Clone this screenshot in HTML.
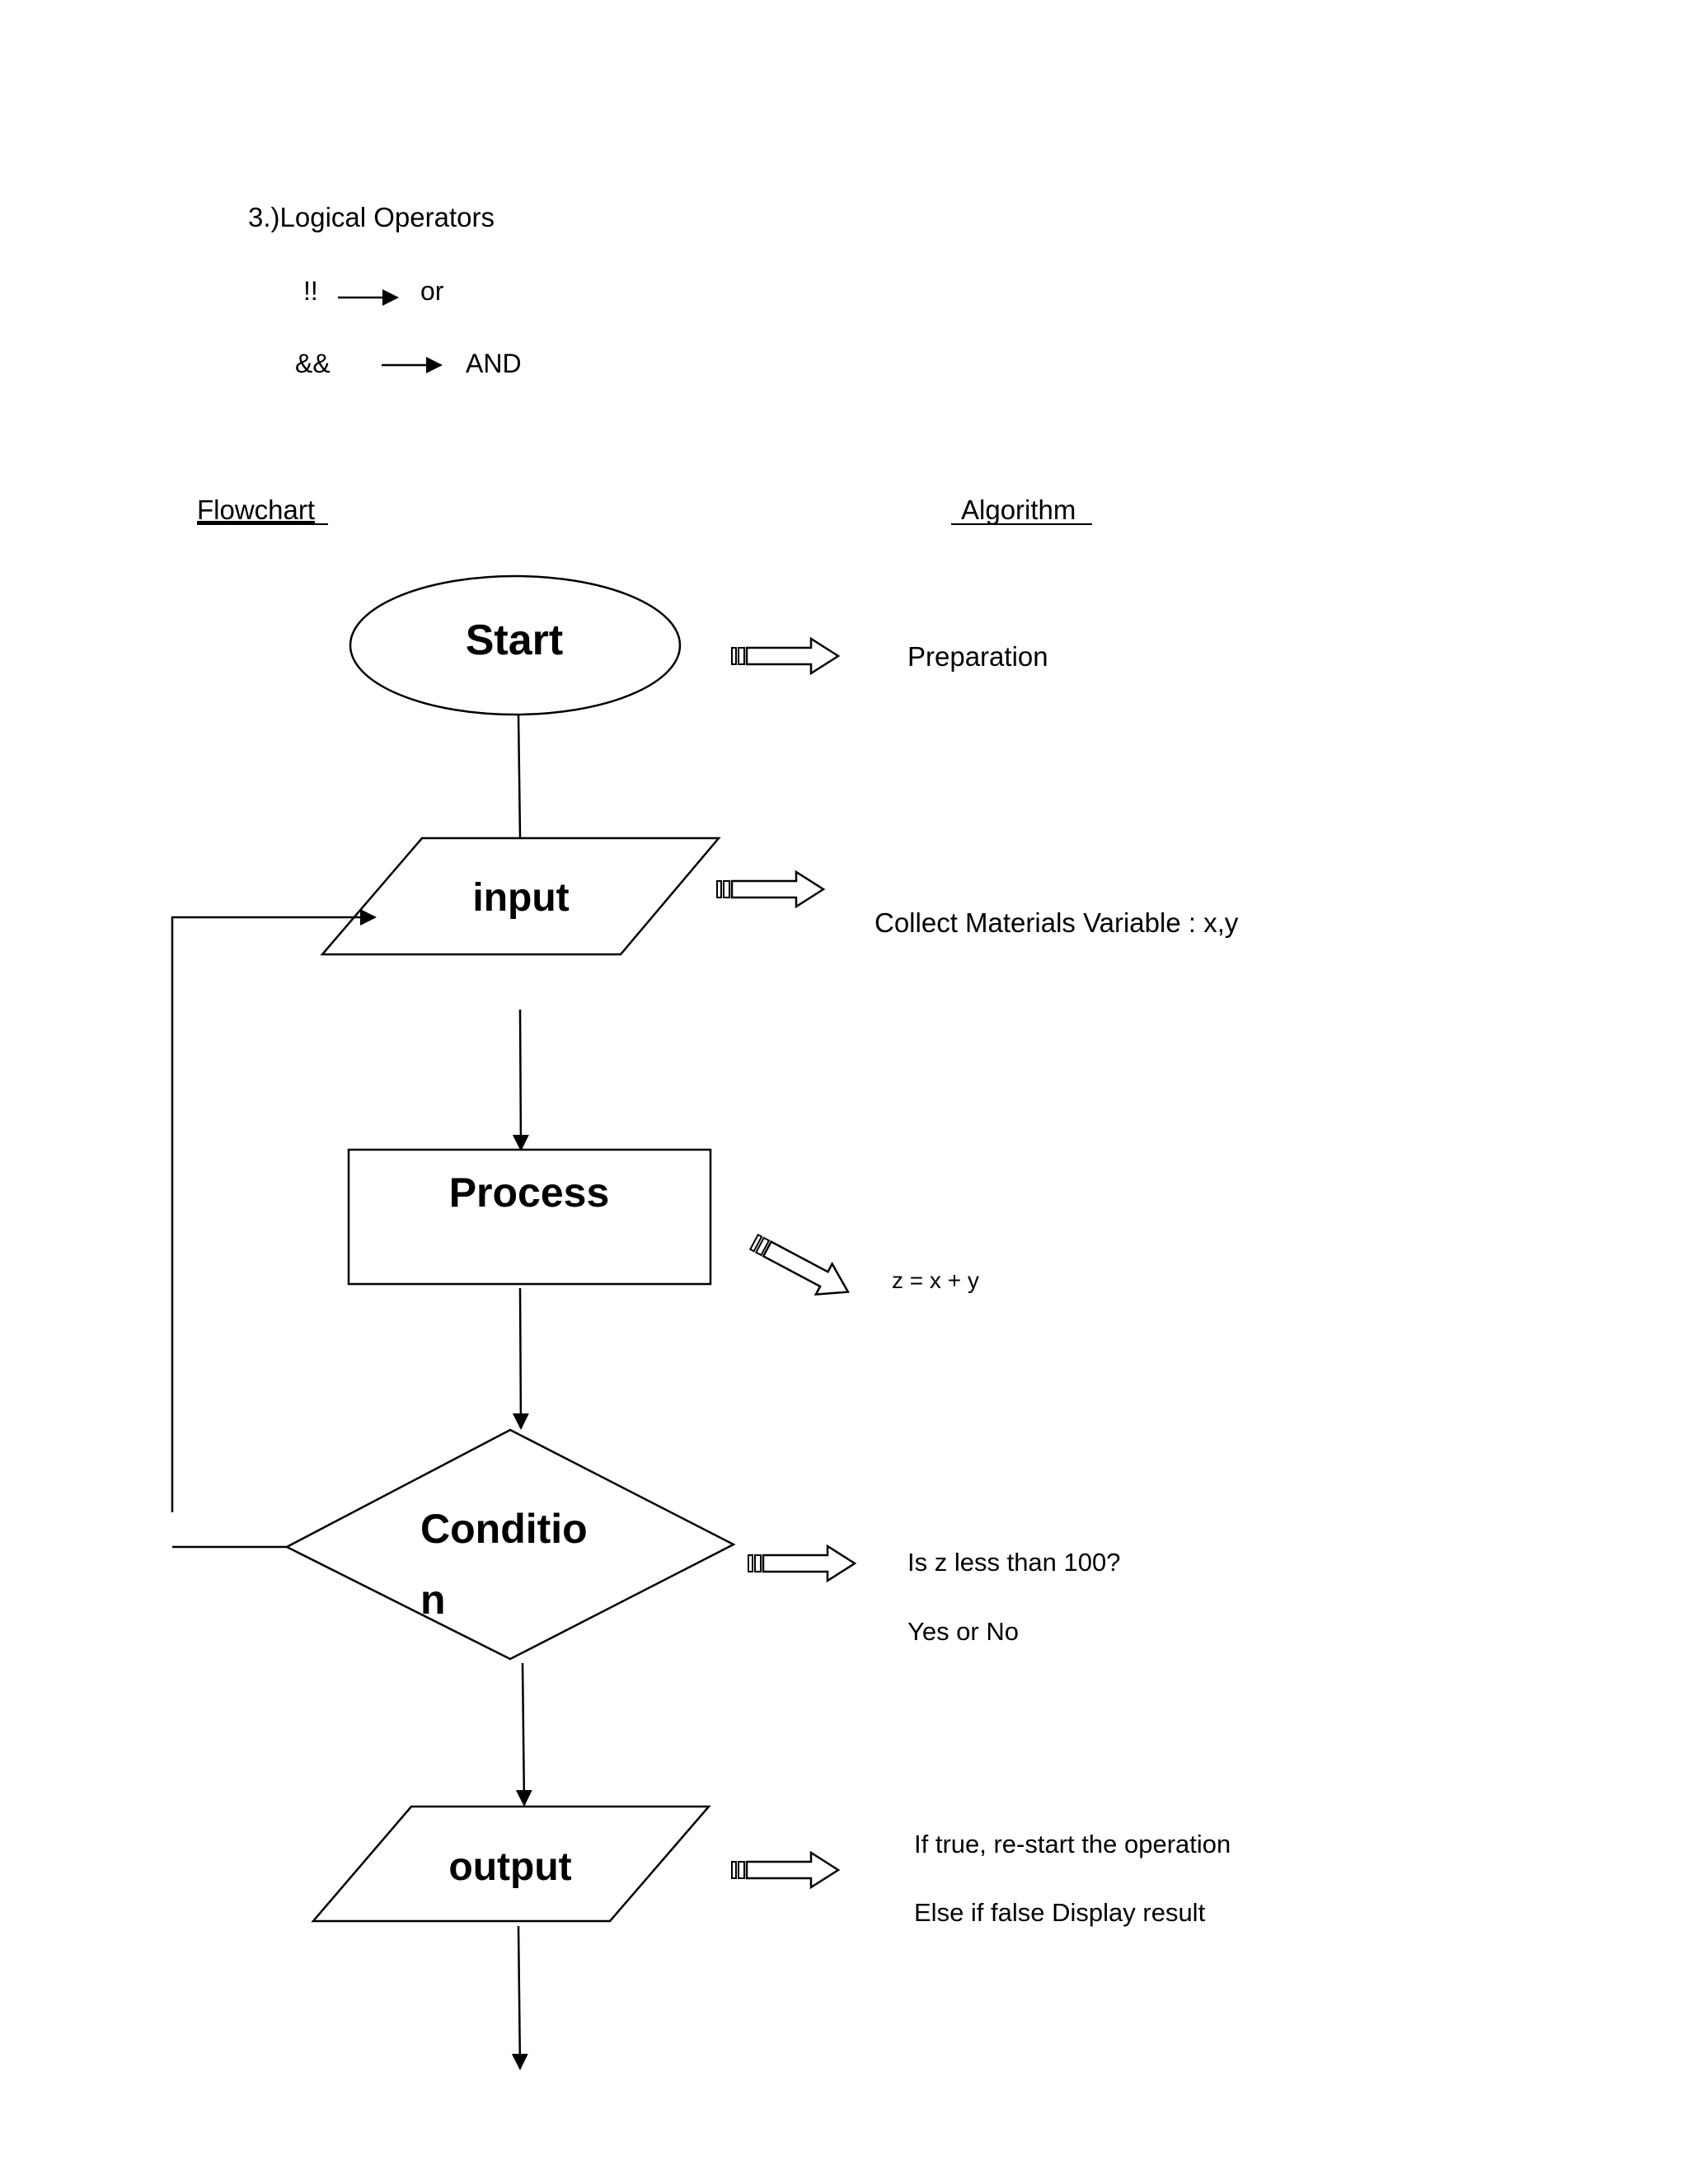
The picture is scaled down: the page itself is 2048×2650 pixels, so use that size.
<!DOCTYPE html>
<html><head><meta charset="utf-8"><style>
html,body{margin:0;padding:0;background:#fff}
svg{display:block}
text{font-family:"Liberation Sans",sans-serif;fill:#000}
.b{font-weight:bold}
</style></head><body>
<svg width="2048" height="2650" viewBox="0 0 2048 2650" xmlns="http://www.w3.org/2000/svg">
<defs>
<marker id="ah" markerWidth="10" markerHeight="10" refX="9" refY="5" orient="auto" markerUnits="userSpaceOnUse" viewBox="0 0 10 10">
<path d="M0,0 L10,5 L0,10 z" fill="#000"/></marker>
<marker id="ah2" markerWidth="20" markerHeight="20" refX="18" refY="10" orient="auto" markerUnits="userSpaceOnUse" viewBox="0 0 20 20">
<path d="M0,0 L20,10 L0,20 z" fill="#000"/></marker>
<g id="ba">
<path d="M18,-10 L96,-10 L96,-21 L129,0 L96,21 L96,10 L18,10 Z" fill="#fff" stroke="#000" stroke-width="2.5"/>
<rect x="0" y="-10" width="5" height="20" fill="#fff" stroke="#000" stroke-width="2"/>
<rect x="8" y="-10" width="7" height="20" fill="#fff" stroke="#000" stroke-width="2"/>
</g>
</defs>
<text x="301" y="275" font-size="33">3.)Logical Operators</text>
<text x="368" y="364" font-size="32">!!</text>
<line x1="410" y1="361" x2="482" y2="361" stroke="#000" stroke-width="2.5" marker-end="url(#ah2)"/>
<text x="510" y="364" font-size="32">or</text>
<text x="358" y="452" font-size="32">&amp;&amp;</text>
<line x1="463" y1="443" x2="535" y2="443" stroke="#000" stroke-width="2.5" marker-end="url(#ah2)"/>
<text x="565" y="452" font-size="32">AND</text>
<text x="239" y="630" font-size="33" text-decoration="underline">Flowchart</text>
<line x1="239" y1="636" x2="398" y2="636" stroke="#000" stroke-width="2"/>
<text x="1166" y="630" font-size="33">Algorithm</text>
<line x1="1154" y1="636" x2="1325" y2="636" stroke="#000" stroke-width="2"/>

<ellipse cx="625" cy="783" rx="200" ry="84" fill="#fff" stroke="#000" stroke-width="2.5"/>
<text x="624" y="794" font-size="52" class="b" text-anchor="middle">Start</text>
<line x1="629" y1="867" x2="631" y2="1017" stroke="#000" stroke-width="2.5"/>

<polygon points="512,1017 872,1017 753,1158 391,1158" fill="#fff" stroke="#000" stroke-width="2.5"/>
<text x="632" y="1105" font-size="48" class="b" text-anchor="middle">input</text>
<polyline points="209,1835 209,1113 455,1113" fill="none" stroke="#000" stroke-width="2.5" marker-end="url(#ah2)"/>
<line x1="209" y1="1877" x2="348" y2="1877" stroke="#000" stroke-width="2.5"/>

<line x1="631" y1="1225" x2="632" y2="1395" stroke="#000" stroke-width="2.5" marker-end="url(#ah2)"/>
<rect x="423" y="1395" width="439" height="163" fill="#fff" stroke="#000" stroke-width="2.5"/>
<text x="642" y="1464" font-size="50" class="b" text-anchor="middle">Process</text>
<line x1="631" y1="1563" x2="632" y2="1733" stroke="#000" stroke-width="2.5" marker-end="url(#ah2)"/>

<polygon points="619,1735 890,1874 619,2013 348,1877" fill="#fff" stroke="#000" stroke-width="2.5"/>
<text x="510" y="1872" font-size="50" class="b">Conditio</text>
<text x="510" y="1958" font-size="50" class="b">n</text>
<line x1="634" y1="2018" x2="636" y2="2190" stroke="#000" stroke-width="2.5" marker-end="url(#ah2)"/>

<polygon points="499,2192 860,2192 740,2331 380,2331" fill="#fff" stroke="#000" stroke-width="2.5"/>
<text x="619" y="2281" font-size="48" class="b" text-anchor="middle">output</text>
<line x1="629" y1="2337" x2="631" y2="2510" stroke="#000" stroke-width="2.5" marker-end="url(#ah2)"/>

<use href="#ba" transform="translate(888,796)"/>
<use href="#ba" transform="translate(870,1079)"/>
<use href="#ba" transform="translate(915,1507) rotate(28)"/>
<use href="#ba" transform="translate(908,1897)"/>
<use href="#ba" transform="translate(888,2269)"/>

<text x="1101" y="808" font-size="33">Preparation</text>
<text x="1061" y="1131" font-size="33">Collect Materials Variable : x,y</text>
<text x="1082" y="1563" font-size="28">z = x + y</text>
<text x="1101" y="1906" font-size="31">Is z less than 100?</text>
<text x="1101" y="1990" font-size="31">Yes or No</text>
<text x="1109" y="2248" font-size="31">If true, re-start the operation</text>
<text x="1109" y="2331" font-size="31">Else if false Display result</text>
</svg>
</body></html>
